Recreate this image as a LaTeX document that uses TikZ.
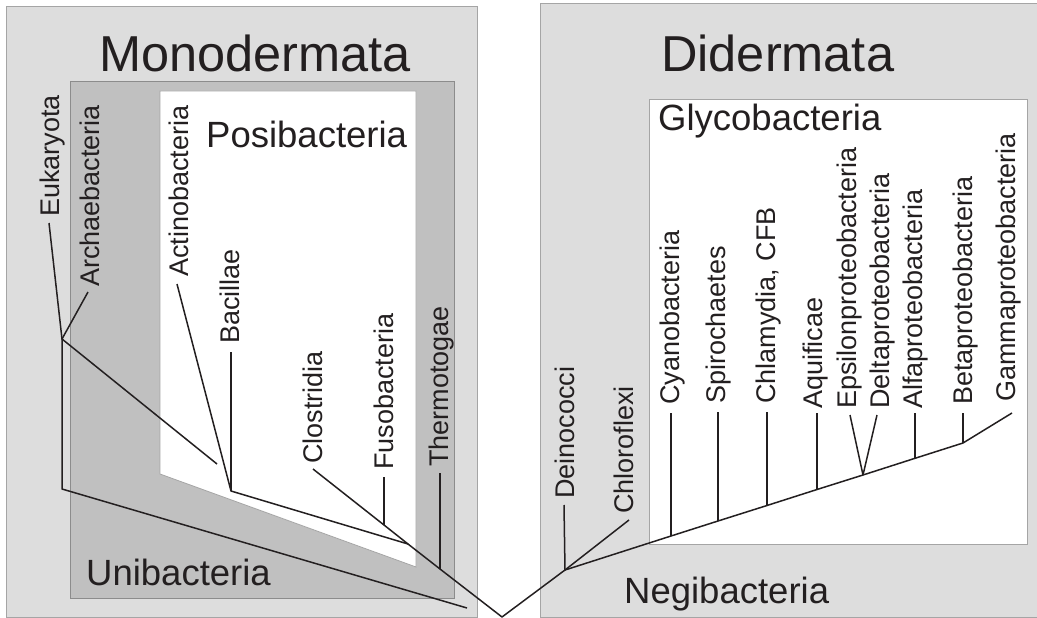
\documentclass[tikz,border=0pt]{standalone}
\usepackage{fontspec}
\setmainfont{Liberation Sans}
\definecolor{panelgray}{RGB}{221,221,221}
\definecolor{unigray}{RGB}{192,192,192}
\definecolor{bordergray}{RGB}{165,165,165}
\definecolor{inkcol}{RGB}{35,31,32}
\tikzset{
  panel/.style={fill=panelgray, draw=bordergray, line width=0.8pt},
  unibox/.style={fill=unigray, draw=bordergray!85!black, line width=0.8pt},
  whitebox/.style={fill=white, draw=bordergray, line width=0.8pt},
  branch/.style={draw=inkcol, line width=1.5pt, line join=round},
  leaf/.style={rotate=90, anchor=west, inner sep=0pt, text height=19.3pt, text depth=0pt,
    font=\fontsize{27}{30}\selectfont, text=inkcol},
  bigtitle/.style={anchor=base west, inner sep=0pt, font=\fontsize{50.5}{56}\selectfont, text=inkcol},
  grouptitle/.style={anchor=base west, inner sep=0pt, font=\fontsize{36.5}{40}\selectfont, text=inkcol},
}
\begin{document}
\begin{tikzpicture}[x=1pt,y=-1pt]
\useasboundingbox (0,0) rectangle (1037,618);
% panels
\path[panel] (6,6) rectangle (477,617);
\path[unibox] (70,81) rectangle (454,598);
\path[whitebox] (160,91) -- (416,91) -- (416,567) -- (160,474) -- cycle;
\path[panel] (540,3) rectangle (1045,617);
\path[whitebox] (649,99) rectangle (1027,544);
% titles
\node[bigtitle] (mono) at (99,72) {Monodermata};
\node[bigtitle] (dider) at (661,72) {Didermata};
\node[grouptitle] (posi) at (206,147) {Posibacteria};
\node[grouptitle] (glyco) at (658,131) {Glycobacteria};
\node[grouptitle] (uni) at (86,585) {Unibacteria};
\node[grouptitle] (negi) at (624,603) {Negibacteria};
% leaf labels
\node[leaf] (euk) at (50,217) {Eukaryota};
\node[leaf] (arch) at (90,287) {Archaebacteria};
\node[leaf] (actino) at (179,277) {Actinobacteria};
\node[leaf] (bacil) at (230,344) {Bacillae};
\node[leaf] (clos) at (313,464) {Clostridia};
\node[leaf] (fuso) at (384,470) {Fusobacteria};
\node[leaf] (thermo) at (439,467) {Thermotogae};
\node[leaf] (deino) at (565,499) {Deinococci};
\node[leaf] (chloro) at (624,514) {Chloroflexi};
\node[leaf] (cyano) at (670,405) {Cyanobacteria};
\node[leaf] (spiro) at (716,404) {Spirochaetes};
\node[leaf] (chlam) at (766,404) {Chlamydia, CFB};
\node[leaf] (aquif) at (813,409) {Aquificae};
\node[leaf] (eps) at (847,409) {Epsilonproteobacteria};
\node[leaf] (delta) at (880,409) {Deltaproteobacteria};
\node[leaf] (alfa) at (913,409) {Alfaproteobacteria};
\node[leaf] (beta) at (963,405) {Betaproteobacteria};
\node[leaf] (gamma) at (1006,402) {Gammaproteobacteria};
% line tops
\coordinate (eukT) at (49,223);
\coordinate (archT) at (88,292);
\coordinate (actinoT) at (177,284);
\coordinate (bacilT) at (231,352);
\coordinate (closT) at (313,469);
\coordinate (fusoT) at (384,477);
\coordinate (thermoT) at (440,473);
\coordinate (deinoT) at (564,505);
\coordinate (chloroT) at (629,520);
\coordinate (cyanoT) at (671,413);
\coordinate (spiroT) at (718,412);
\coordinate (chlamT) at (767,412);
\coordinate (aquifT) at (817,413);
\coordinate (epsT) at (850,415);
\coordinate (deltaT) at (877,415);
\coordinate (alfaT) at (915,413);
\coordinate (betaT) at (963,413);
\coordinate (gammaT) at (1012,413);
% junctions
\coordinate (nEA) at (62,339);
\coordinate (nE2) at (62,489);
\coordinate (fE) at (217,464);
\coordinate (fE2) at (467,608);
\coordinate (nAB) at (231,491);
\coordinate (nF) at (384,525);
\coordinate (nP) at (408,544);
\coordinate (nT) at (440,569);
\coordinate (root) at (502,617);
\coordinate (nD) at (565,570);
\coordinate (jCy) at (671,536);
\coordinate (jSp) at (718,521);
\coordinate (jCh) at (767,505.5);
\coordinate (jAq) at (817,489.5);
\coordinate (nED) at (863,475);
\coordinate (jAl) at (915,458.3);
\coordinate (nB) at (963,443);
% branches
\draw[branch] (eukT) -- (nEA) -- (nE2) -- (fE2);
\draw[branch] (archT) -- (nEA) -- (fE);
\draw[branch] (actinoT) -- (nAB) -- (nP);
\draw[branch] (bacilT) -- (nAB);
\draw[branch] (closT) -- (nF) -- (nP) -- (nT) -- (root) -- (nD) -- (jCy) -- (jSp) -- (jCh) -- (jAq) -- (nED) -- (jAl) -- (nB) -- (gammaT);
\draw[branch] (fusoT) -- (nF);
\draw[branch] (thermoT) -- (nT);
\draw[branch] (deinoT) -- (nD);
\draw[branch] (chloroT) -- (nD);
\draw[branch] (cyanoT) -- (jCy);
\draw[branch] (spiroT) -- (jSp);
\draw[branch] (chlamT) -- (jCh);
\draw[branch] (aquifT) -- (jAq);
\draw[branch] (epsT) -- (nED);
\draw[branch] (deltaT) -- (nED);
\draw[branch] (alfaT) -- (jAl);
\draw[branch] (betaT) -- (nB);
\end{tikzpicture}
\end{document}
